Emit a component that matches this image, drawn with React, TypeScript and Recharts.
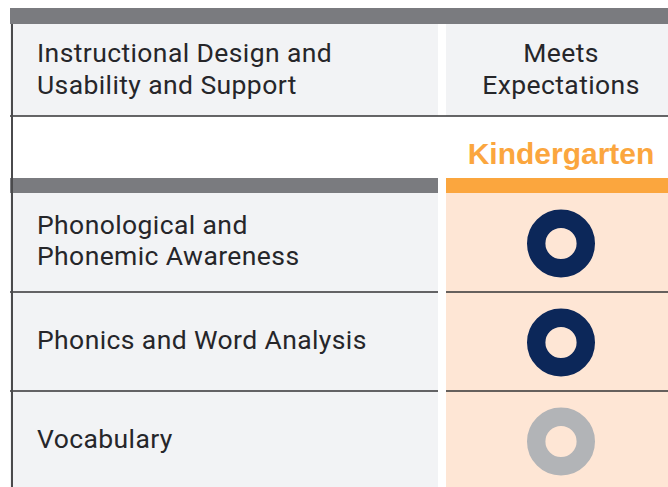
import React from 'react';
import {
  ScatterChart,
  Scatter,
  XAxis,
  YAxis,
  ReferenceArea,
  ReferenceLine,
} from 'recharts';

// Table content
const headerTitle = ['Instructional Design and', 'Usability and Support'];
const ratingHeader = ['Meets', 'Expectations'];
const grades = ['Kindergarten'];
const skills = ['Phonological and\nPhonemic Awareness', 'Phonics and Word Analysis', 'Vocabulary'];
const kindergartenRatings = ['meets', 'meets', 'notMet'];

const ratingColors: Record<string, string> = {
  meets: '#0c2759',
  notMet: '#b2b4b7',
};

// Colors and sizes
const BAR_GRAY = '#7a7b7f';
const CELL_GRAY = '#f2f3f5';
const ORANGE = '#fba63e';
const PEACH = '#fee6d5';
const RULE = '#333335';
const TEXT = '#26262a';
const FONT = 'Roboto, sans-serif';
const FONT_SIZE = 26.5;
const FONT_WEIGHT = 400;
const SPACING = 0.4;
const LINE_H = 31;
const ROW_H = 99;
const LABEL_W = 446;

const data = skills.map((skill, i) => ({
  skill,
  grade: grades[0],
  rating: kindergartenRatings[i],
}));

const SkillTick = (props: any) => {
  const { y, payload, index } = props;
  const top = y - ROW_H / 2;
  const lines = String(payload.value).split('\n');
  const first = y - ((lines.length - 1) * LINE_H) / 2 + 7;
  return (
    <g>
      <rect x={10} y={top} width={428} height={ROW_H} fill={CELL_GRAY} />
      {index > 0 && (
        <line x1={10} x2={438} y1={top} y2={top} stroke={RULE} strokeWidth={1.5} />
      )}
      <text
        x={37}
        y={first}
        fontSize={FONT_SIZE}
        fontWeight={FONT_WEIGHT}
        letterSpacing={SPACING}
        fill={TEXT}
        fontFamily={FONT}
      >
        {lines.map((l, i) => (
          <tspan key={i} x={37} y={first + i * LINE_H}>
            {l}
          </tspan>
        ))}
      </text>
    </g>
  );
};

const Donut = (props: any) => {
  const { cx, cy, payload } = props;
  return (
    <circle
      cx={cx}
      cy={cy + 1}
      r={24.8}
      fill="none"
      stroke={ratingColors[payload.rating]}
      strokeWidth={18.4}
    />
  );
};

const App = () => {
  return (
    <div
      style={{
        position: 'absolute',
        left: 0,
        top: 0,
        width: 668,
        height: 487,
        overflow: 'hidden',
        background: '#fff',
      }}
    >
      {/* Header rows */}
      <svg width={676} height={193} style={{ position: 'absolute', left: 0, top: 0 }}>
        <rect x={10} y={8} width={666} height={16} fill={BAR_GRAY} />
        <rect x={10} y={24} width={428} height={92} fill={CELL_GRAY} />
        <rect x={446} y={24} width={230} height={92} fill={CELL_GRAY} />
        <line x1={10} x2={676} y1={116} y2={116} stroke={RULE} strokeWidth={1.5} />
        <text
          fontSize={FONT_SIZE}
          fontWeight={FONT_WEIGHT}
          letterSpacing={SPACING}
          fill={TEXT}
          fontFamily={FONT}
        >
          {headerTitle.map((t, i) => (
            <tspan key={i} x={37} y={62 + i * 32}>
              {t}
            </tspan>
          ))}
        </text>
        <text
          fontSize={FONT_SIZE}
          fontWeight={FONT_WEIGHT}
          letterSpacing={SPACING}
          fill={TEXT}
          fontFamily={FONT}
          textAnchor="middle"
        >
          {ratingHeader.map((t, i) => (
            <tspan key={i} x={561} y={62 + i * 32}>
              {t}
            </tspan>
          ))}
        </text>
        <text
          x={561}
          y={164}
          fontSize={30}
          fontWeight="bold"
          fill={ORANGE}
          fontFamily='"Liberation Sans", Arial, sans-serif'
          textAnchor="middle"
        >
          {grades[0]}
        </text>
        <rect x={10} y={178} width={428} height={15} fill={BAR_GRAY} />
        <rect x={446} y={178} width={230} height={15} fill={ORANGE} />
      </svg>

      {/* Rating rows */}
      <div style={{ position: 'absolute', left: 0, top: 193 }}>
        <ScatterChart width={676} height={ROW_H * skills.length} margin={{ top: 0, right: 0, bottom: 0, left: 0 }}>
          <XAxis type="category" dataKey="grade" allowDuplicatedCategory={false} hide />
          <YAxis
            type="category"
            dataKey="skill"
            width={LABEL_W}
            reversed
            interval={0}
            axisLine={false}
            tickLine={false}
            tick={<SkillTick />}
          />
          <ReferenceArea
            y1={skills[0]}
            y2={skills[skills.length - 1]}
            fill={PEACH}
            fillOpacity={1}
            stroke="none"
          />
          {skills.slice(1).map((s) => (
            <ReferenceLine key={s} y={s} position="start" stroke={RULE} strokeWidth={1.5} />
          ))}
          <Scatter data={data} shape={<Donut />} isAnimationActive={false} />
        </ScatterChart>
      </div>

      {/* Left table border */}
      <div
        style={{
          position: 'absolute',
          left: 11,
          top: 24,
          width: 1.5,
          height: 463,
          background: '#4a4a4c',
        }}
      />
    </div>
  );
};

export default App;
